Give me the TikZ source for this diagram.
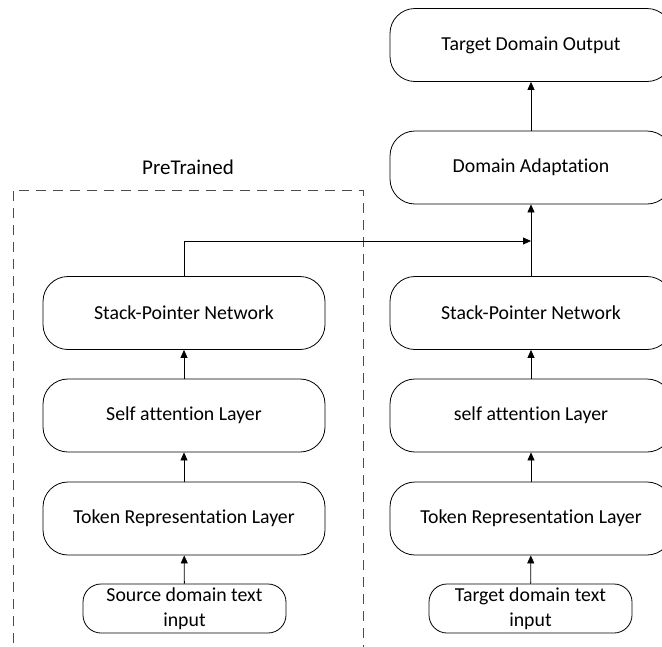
\documentclass[tikz,border=0pt]{standalone}
\usepackage{fontspec}
\setmainfont{Carlito}[Ligatures=NoCommon]
\usetikzlibrary{positioning,arrows.meta}

\begin{document}
\begin{tikzpicture}[x=1pt,y=1pt,
  layer/.style={draw, line width=0.8pt, rounded corners=25pt, minimum width=282pt, minimum height=73pt, inner sep=0pt, font=\fontsize{19.8}{25}\selectfont},
  inbox/.style={draw, line width=0.8pt, rounded corners=18pt, minimum width=203pt, minimum height=49pt, inner sep=0pt, align=center, font=\fontsize{19.8}{25}\selectfont},
  arr/.style={-{Triangle[length=8pt,width=7pt]}, line width=0.8pt}]
\useasboundingbox (0,0) rectangle (662,-646);

% pretrained source side
\draw[dashed, dash pattern=on 10pt off 7pt, line width=0.9pt, color=black!70] (13,-660) -- (13,-190) -- (363,-190) -- (363,-660);
\node[font=\fontsize{21}{25}\selectfont] (pre) at (188,-167) {PreTrained};

\node[layer] (sp1) at (184,-313) {Stack-Pointer Network};
\node[layer] (sa1) at (184,-415.5) {Self attention Layer};
\node[layer] (tr1) at (184,-518.5) {Token Representation Layer};
\node[inbox] (in1) at (184.5,-608.5) {Source domain text\\input};

% target side
\node[layer] (out) at (531,-45) {Target Domain Output};
\node[layer] (da) at (531,-167.5) {Domain Adaptation};
\node[layer] (sp2) at (531,-313) {Stack-Pointer Network};
\node[layer] (sa2) at (531,-415.5) {self attention Layer};
\node[layer] (tr2) at (531,-518.5) {Token Representation Layer};
\node[inbox] (in2) at (530.5,-608.5) {Target domain text\\input};

% arrows
\draw[arr] (in1) -- (tr1);
\draw[arr] (tr1) -- (sa1);
\draw[arr] (sa1) -- (sp1);
\draw[arr] (in2) -- (tr2);
\draw[arr] (tr2) -- (sa2);
\draw[arr] (sa2) -- (sp2);
\draw[arr] (sp2) -- (da);
\draw[arr] (da) -- (out);

\coordinate (join) at (531,-241);
\draw[arr] (sp1.north) |- (join);
\end{tikzpicture}
\end{document}
